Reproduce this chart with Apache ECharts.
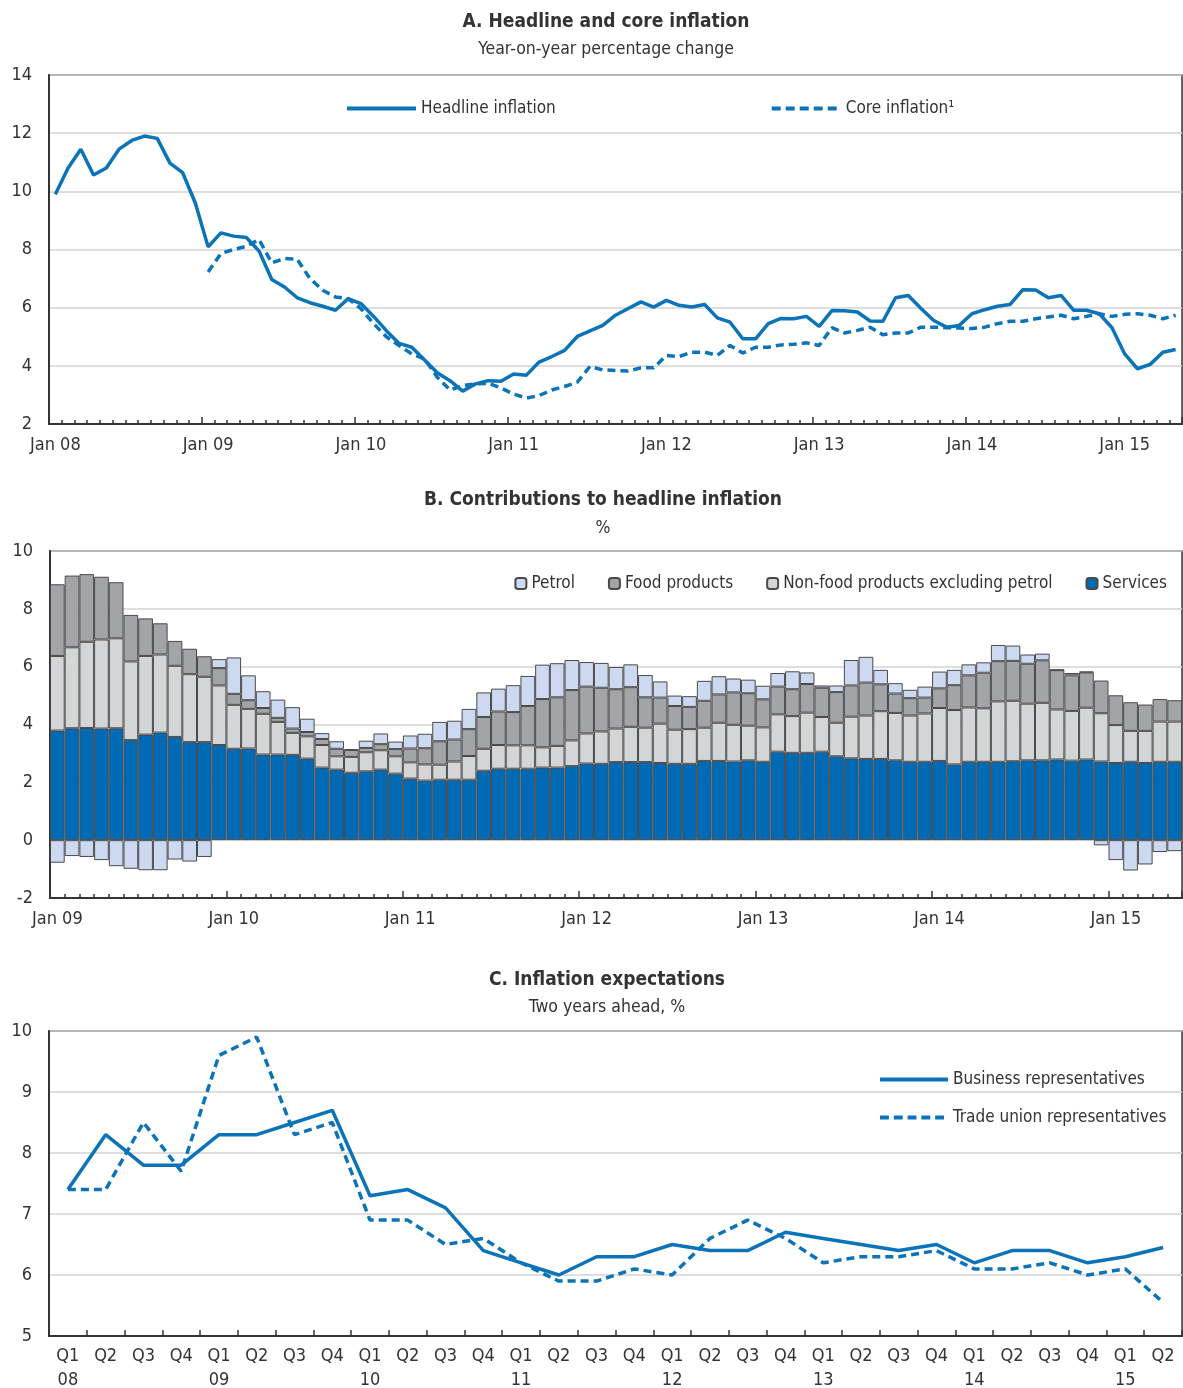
<!DOCTYPE html>
<html>
<head>
<meta charset="utf-8">
<script src="https://cdn.jsdelivr.net/npm/echarts@6/dist/echarts.min.js"></script>
<style>
  html, body { margin: 0; padding: 0; background: #fff; }
  #chart { width: 1183px; height: 1388px; }
</style>
</head>
<body>
<div id="chart"></div>
<script>
// Panel A: monthly, Jan 2008 - May 2015
const headline = [9.9, 10.8, 11.45, 10.56, 10.8, 11.45, 11.75, 11.9, 11.82, 10.97, 10.64, 9.59,
  8.09, 8.57, 8.46, 8.41, 7.95, 6.97, 6.71, 6.34, 6.17, 6.05, 5.91, 6.31,
  6.14, 5.7, 5.21, 4.77, 4.64, 4.2, 3.76, 3.49, 3.13, 3.38, 3.49, 3.47,
  3.72, 3.68, 4.13, 4.32, 4.53, 5.01, 5.2, 5.39, 5.74, 5.97, 6.2, 6.02,
  6.25, 6.08, 6.02, 6.11, 5.65, 5.5, 4.93, 4.93, 5.45, 5.63, 5.62, 5.7,
  5.36, 5.9, 5.89, 5.85, 5.54, 5.53, 6.34, 6.42, 5.97, 5.56, 5.33, 5.39,
  5.79, 5.93, 6.05, 6.11, 6.62, 6.61, 6.34, 6.42, 5.91, 5.91, 5.79, 5.31,
  4.41, 3.9, 4.05, 4.47, 4.56];
const core = [null, null, null, null, null, null, null, null, null, null, null, null,
  7.23, 7.86, 8.0, 8.11, 8.34, 7.54, 7.69, 7.66, 7.0, 6.6, 6.37, 6.31,
  5.97, 5.45, 5.0, 4.7, 4.41, 4.24, 3.61, 3.17, 3.32, 3.38, 3.4, 3.24,
  3.03, 2.89, 2.98, 3.17, 3.29, 3.44, 3.98, 3.86, 3.84, 3.82, 3.93, 3.93,
  4.36, 4.32, 4.47, 4.47, 4.36, 4.7, 4.44, 4.64, 4.64, 4.72, 4.74, 4.79,
  4.7, 5.31, 5.13, 5.22, 5.33, 5.07, 5.13, 5.13, 5.33, 5.33, 5.31, 5.3,
  5.28, 5.33, 5.45, 5.53, 5.53, 5.62, 5.68, 5.74, 5.62, 5.7, 5.79, 5.7,
  5.77, 5.79, 5.74, 5.62, 5.74];

// Panel B: monthly, Jan 2009 - May 2015
const services = [3.79, 3.87, 3.88, 3.86, 3.87, 3.46, 3.65, 3.72, 3.57, 3.39, 3.39, 3.29,
  3.16, 3.17, 2.96, 2.96, 2.95, 2.82, 2.51, 2.44, 2.33, 2.38, 2.44, 2.3,
  2.13, 2.06, 2.09, 2.09, 2.09, 2.4, 2.47, 2.47, 2.47, 2.51, 2.51, 2.56,
  2.65, 2.64, 2.7, 2.7, 2.7, 2.67, 2.64, 2.64, 2.74, 2.74, 2.72, 2.76,
  2.71, 3.06, 3.02, 3.02, 3.06, 2.9, 2.83, 2.81, 2.81, 2.76, 2.71, 2.71,
  2.74, 2.62, 2.71, 2.71, 2.71, 2.73, 2.76, 2.76, 2.79, 2.75, 2.79, 2.72,
  2.67, 2.71, 2.67, 2.71, 2.71];
const nonFood = [2.58, 2.8, 2.98, 3.08, 3.11, 2.72, 2.72, 2.7, 2.46, 2.35, 2.26, 2.06,
  1.52, 1.37, 1.41, 1.13, 0.76, 0.77, 0.78, 0.46, 0.55, 0.66, 0.67, 0.6,
  0.56, 0.56, 0.52, 0.63, 0.82, 0.76, 0.82, 0.81, 0.81, 0.7, 0.75, 0.89,
  1.04, 1.12, 1.16, 1.22, 1.19, 1.36, 1.18, 1.2, 1.15, 1.32, 1.27, 1.2,
  1.19, 1.29, 1.27, 1.39, 1.2, 1.16, 1.44, 1.5, 1.65, 1.64, 1.6, 1.67,
  1.83, 1.88, 1.88, 1.85, 2.09, 2.09, 1.96, 1.99, 1.73, 1.72, 1.79, 1.67,
  1.31, 1.07, 1.11, 1.39, 1.39];
const food = [2.48, 2.48, 2.34, 2.17, 1.94, 1.61, 1.3, 1.08, 0.86, 0.88, 0.71, 0.6,
  0.38, 0.3, 0.2, 0.14, 0.15, 0.15, 0.21, 0.26, 0.24, 0.15, 0.21, 0.25,
  0.48, 0.56, 0.81, 0.76, 0.93, 1.1, 1.16, 1.15, 1.36, 1.67, 1.68, 1.74,
  1.62, 1.51, 1.36, 1.37, 1.05, 0.9, 0.82, 0.77, 0.93, 0.98, 1.12, 1.12,
  0.97, 0.96, 0.93, 0.99, 1.01, 1.06, 1.08, 1.14, 0.93, 0.67, 0.6, 0.55,
  0.68, 0.86, 1.11, 1.23, 1.39, 1.38, 1.38, 1.47, 1.36, 1.23, 1.22, 1.13,
  1.03, 0.99, 0.91, 0.78, 0.74];
const petrol = [-0.78, -0.55, -0.58, -0.69, -0.9, -0.99, -1.04, -1.04, -0.67, -0.74, -0.58, 0.31,
  1.26, 0.86, 0.58, 0.63, 0.74, 0.46, 0.2, 0.26, 0.02, 0.25, 0.37, 0.26,
  0.45, 0.5, 0.67, 0.65, 0.7, 0.85, 0.79, 0.93, 1.04, 1.19, 1.18, 1.04,
  0.85, 0.86, 0.77, 0.79, 0.77, 0.56, 0.36, 0.37, 0.69, 0.63, 0.48, 0.47,
  0.47, 0.47, 0.62, 0.4, 0.08, 0.23, 0.88, 0.89, 0.5, 0.36, 0.29, 0.38,
  0.58, 0.53, 0.38, 0.36, 0.56, 0.53, 0.32, 0.23, 0.02, 0.08, 0.03, -0.18,
  -0.69, -1.05, -0.84, -0.41, -0.38];

// Panel C: quarterly, Q1 2008 - Q2 2015
const business = [7.4, 8.3, 7.8, 7.8, 8.3, 8.3, 8.5, 8.7, 7.3, 7.4, 7.1, 6.4, 6.2, 6.0, 6.3,
  6.3, 6.5, 6.4, 6.4, 6.7, 6.6, 6.5, 6.4, 6.5, 6.2, 6.4, 6.4, 6.2, 6.3, 6.45];
const tradeUnion = [7.4, 7.4, 8.5, 7.7, 9.6, 9.9, 8.3, 8.5, 6.9, 6.9, 6.5, 6.6, 6.2, 5.9, 5.9,
  6.1, 6.0, 6.6, 6.9, 6.6, 6.2, 6.3, 6.3, 6.4, 6.1, 6.1, 6.2, 6.0, 6.1, 5.55];

const monthNames = ['Jan', 'Feb', 'Mar', 'Apr', 'May', 'Jun', 'Jul', 'Aug', 'Sep', 'Oct', 'Nov', 'Dec'];
const quarterNames = ['Q1', 'Q2', 'Q3', 'Q4'];

function monthCats(startYear, count) {
  const out = [];
  for (let i = 0; i < count; i++) {
    const y = startYear + Math.floor(i / 12);
    out.push(monthNames[i % 12] + ' ' + String(y).slice(2));
  }
  return out;
}
function quarterCats(startYear, count) {
  const out = [];
  for (let i = 0; i < count; i++) {
    const y = startYear + Math.floor(i / 4);
    out.push(quarterNames[i % 4] + '\n' + String(y).slice(2));
  }
  return out;
}

const monthsA = monthCats(2008, headline.length);
const monthsB = monthCats(2009, services.length);
const quarters = quarterCats(2008, business.length);

const FONT = "'DejaVu Sans Condensed', 'Liberation Sans Narrow', sans-serif";
const TXT = '#333';
const BLUE = '#0b73b8';

// legend icons: solid and dashed line strips
const SOLID_ICON = 'path://M0,0h69v4h-69z';
const DASH_ICON = 'path://M0,0h9v4h-9z M14,0h9v4h-9z M28,0h9v4h-9z M42,0h9v4h-9z M56,0h9v4h-9z M69,0h0v4h0z';

const chart = echarts.init(document.getElementById('chart'));

function gridBox(left, top, width, height) {
  return { left, top, width, height, outerBoundsMode: 'none', containLabel: false,
    show: true, borderColor: '#333', borderWidth: 1.5, backgroundColor: '#fff' };
}

function yAxis(gridIndex, min, max, interval) {
  return {
    type: 'value', gridIndex, min, max, interval,
    axisLine: { show: true, lineStyle: { color: '#333', width: 2 } },
    axisTick: { show: false },
    axisLabel: { color: TXT, fontFamily: FONT, fontSize: 18, margin: 17 },
    splitLine: { lineStyle: { color: '#d3d3d3', width: 1.5 } }
  };
}

function monthAxis(gridIndex, data) {
  return {
    type: 'category', gridIndex, data, position: 'bottom',
    axisLine: { onZero: false, lineStyle: { color: '#333', width: 2 } },
    axisTick: { show: true, inside: true, interval: 0, length: 4, lineStyle: { color: '#333', width: 1.5 } },
    axisLabel: { color: TXT, fontFamily: FONT, fontSize: 18, margin: 12,
      interval: (i) => i % 12 === 0 },
    splitLine: { show: false }
  };
}
function yearTickAxis(gridIndex, data) {
  return {
    type: 'category', gridIndex, data, position: 'bottom',
    axisLine: { show: false, onZero: false },
    axisTick: { show: true, inside: true, length: 7, interval: (i) => i % 12 === 0,
      lineStyle: { color: '#333', width: 1.5 } },
    axisLabel: { show: false },
    splitLine: { show: false }
  };
}

const barBorder = { borderColor: '#4a4a4a', borderWidth: 1 };
const titleBold = { fontFamily: FONT, fontSize: 19, fontWeight: 'bold', color: TXT };
const titleSub = { fontFamily: FONT, fontSize: 17.5, fontWeight: 'normal', color: TXT };
const legendText = { fontFamily: FONT, fontSize: 17, color: TXT };

const option = {
  animation: false,
  backgroundColor: '#fff',
  textStyle: { fontFamily: FONT },
  title: [
    { text: 'A. Headline and core inflation', left: 601, top: 8, textAlign: 'center', textStyle: titleBold },
    { text: 'Year-on-year percentage change', left: 601, top: 35, textAlign: 'center', textStyle: titleSub },
    { text: 'B. Contributions to headline inflation', left: 598, top: 486, textAlign: 'center', textStyle: titleBold },
    { text: '%', left: 598, top: 514, textAlign: 'center', textStyle: titleSub },
    { text: 'C. Inflation expectations', left: 602, top: 966, textAlign: 'center', textStyle: titleBold },
    { text: 'Two years ahead, %', left: 602, top: 993, textAlign: 'center', textStyle: titleSub }
  ],
  legend: [
    { data: [{ name: 'Headline inflation', icon: SOLID_ICON }, { name: 'Core inflation¹', icon: DASH_ICON }],
      left: 342, top: 95, itemWidth: 69, itemHeight: 4, itemGap: 216, textStyle: legendText },
    { data: ['Petrol', 'Food products', 'Non-food products excluding petrol', 'Services'],
      right: 11, top: 570, itemWidth: 11, itemHeight: 11, itemGap: 33, textStyle: legendText },
    { data: [{ name: 'Business representatives', icon: SOLID_ICON }, { name: 'Trade union representatives', icon: DASH_ICON }],
      orient: 'vertical', left: 875, top: 1066, itemWidth: 68, itemHeight: 4, itemGap: 21, textStyle: legendText }
  ],
  grid: [
    gridBox(49, 75, 1133, 349),
    gridBox(50, 551, 1132, 347),
    gridBox(49, 1031, 1133, 305)
  ],
  xAxis: [
    monthAxis(0, monthsA),
    yearTickAxis(0, monthsA),
    monthAxis(1, monthsB),
    yearTickAxis(1, monthsB),
    {
      type: 'category', gridIndex: 2, data: quarters, position: 'bottom',
      axisLine: { onZero: false, lineStyle: { color: '#333', width: 2 } },
      axisTick: { show: true, inside: true, interval: 0, length: 6, lineStyle: { color: '#333', width: 1.5 } },
      axisLabel: { color: TXT, fontFamily: FONT, fontSize: 18, margin: 8, interval: 0, lineHeight: 24,
        formatter: (v) => v.startsWith('Q1') ? v : v.split('\n')[0] },
      splitLine: { show: false }
    }
  ],
  yAxis: [
    yAxis(0, 2, 14, 2),
    yAxis(1, -2, 10, 2),
    yAxis(2, 5, 10, 1)
  ],
  series: [
    { name: 'Headline inflation', type: 'line', xAxisIndex: 0, yAxisIndex: 0, data: headline,
      symbol: 'none', lineStyle: { color: BLUE, width: 3.5 }, itemStyle: { color: BLUE } },
    { name: 'Core inflation¹', type: 'line', xAxisIndex: 0, yAxisIndex: 0, data: core,
      symbol: 'none', lineStyle: { color: BLUE, width: 3.5, type: [8, 5] }, itemStyle: { color: BLUE } },

    { name: 'Services', type: 'bar', stack: 'contrib', xAxisIndex: 2, yAxisIndex: 1, data: services,
      barCategoryGap: '0%', itemStyle: Object.assign({ color: '#006bb4' }, barBorder) },
    { name: 'Non-food products excluding petrol', type: 'bar', stack: 'contrib', xAxisIndex: 2, yAxisIndex: 1,
      data: nonFood, barCategoryGap: '0%', itemStyle: Object.assign({ color: '#d4d5d7' }, barBorder) },
    { name: 'Food products', type: 'bar', stack: 'contrib', xAxisIndex: 2, yAxisIndex: 1, data: food,
      barCategoryGap: '0%', itemStyle: Object.assign({ color: '#a3a4a7' }, barBorder) },
    { name: 'Petrol', type: 'bar', stack: 'contrib', xAxisIndex: 2, yAxisIndex: 1, data: petrol,
      barCategoryGap: '0%', itemStyle: Object.assign({ color: '#cdd9f0' }, barBorder) },

    { name: 'Business representatives', type: 'line', xAxisIndex: 4, yAxisIndex: 2, data: business,
      symbol: 'none', lineStyle: { color: BLUE, width: 3.5 }, itemStyle: { color: BLUE } },
    { name: 'Trade union representatives', type: 'line', xAxisIndex: 4, yAxisIndex: 2, data: tradeUnion,
      symbol: 'none', lineStyle: { color: BLUE, width: 3.5, type: [8, 5] }, itemStyle: { color: BLUE } }
  ]
};

chart.setOption(option);
</script>
</body>
</html>
